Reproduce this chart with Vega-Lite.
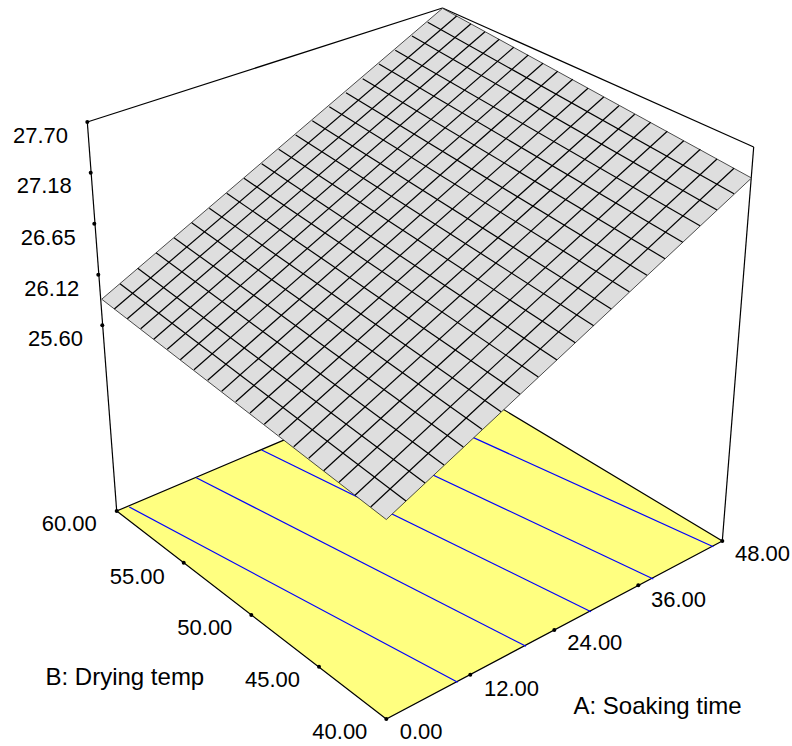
{
"$schema":"https://vega.github.io/schema/vega-lite/v6.json",
"width":792,"height":746,
"autosize":{"type":"fit","contains":"padding"},
"padding":0,
"background":"white",
"config":{"view":{"stroke":null}},
"datasets":{
"box":[
{"sx":87.3,"sy":122,"ex":116.7,"ey":511},
{"sx":87.3,"sy":122,"ex":442.5,"ey":8},
{"sx":442.5,"sy":8,"ex":753.7,"ey":147},
{"sx":753.7,"sy":147,"ex":722.3,"ey":541}
],
"floor":[
{"i":0,"px":116.7,"py":511},
{"i":1,"px":386.3,"py":719},
{"i":2,"px":722.3,"py":541},
{"i":3,"px":442.4,"py":372.8}
],
"contours":[
{"sx":129.3,"sy":507,"ex":457.7,"ey":682.3},
{"sx":196.3,"sy":477.7,"ex":526,"ey":646.3},
{"sx":261.7,"sy":450,"ex":591,"ey":611.7},
{"sx":323.3,"sy":423.3,"ex":653.3,"ey":579},
{"sx":384.7,"sy":397.3,"ex":713.3,"ey":546.7}
],
"surface":[
{"i":0,"px":101.7,"py":299.2},
{"i":1,"px":442.5,"py":8.3},
{"i":2,"px":751.5,"py":178},
{"i":3,"px":386.3,"py":519.5}
],
"grid":[
{"sx":120,"sy":283.7,"ex":406,"ey":501},
{"sx":137.7,"sy":268.3,"ex":425,"ey":483},
{"sx":156,"sy":252.7,"ex":444,"ey":465},
{"sx":174,"sy":237.7,"ex":463.3,"ey":447},
{"sx":191.7,"sy":222.7,"ex":482,"ey":429.3},
{"sx":209.3,"sy":208.3,"ex":501,"ey":411.7},
{"sx":226.7,"sy":193.3,"ex":520,"ey":394.3},
{"sx":244,"sy":178.3,"ex":538.3,"ey":377},
{"sx":261.7,"sy":163.7,"ex":557,"ey":360},
{"sx":278.7,"sy":149.3,"ex":575.3,"ey":342.7},
{"sx":295.7,"sy":135,"ex":593.7,"ey":325.7},
{"sx":312.3,"sy":120.7,"ex":611.3,"ey":309},
{"sx":329.3,"sy":106.7,"ex":629.3,"ey":291.7},
{"sx":346,"sy":92.7,"ex":647,"ey":275.3},
{"sx":362.7,"sy":78.7,"ex":665,"ey":258.7},
{"sx":379,"sy":64,"ex":682.7,"ey":242.3},
{"sx":395.3,"sy":50.3,"ex":700,"ey":225.7},
{"sx":412,"sy":36,"ex":717,"ey":210},
{"sx":427.7,"sy":22.3,"ex":734,"ey":193.7},
{"sx":114.3,"sy":309,"ex":456.7,"ey":16},
{"sx":127.3,"sy":318.7,"ex":471,"ey":23.7},
{"sx":140.7,"sy":328.7,"ex":485,"ey":31.7},
{"sx":153.7,"sy":339.3,"ex":499.3,"ey":39.3},
{"sx":167.3,"sy":349.3,"ex":513.7,"ey":47.3},
{"sx":180.3,"sy":359.7,"ex":528.3,"ey":55},
{"sx":194,"sy":369.7,"ex":543,"ey":63.3},
{"sx":207.7,"sy":380.3,"ex":557.7,"ey":71.3},
{"sx":221.7,"sy":391.3,"ex":572.7,"ey":79.3},
{"sx":235.7,"sy":401.7,"ex":588,"ey":88.3},
{"sx":250,"sy":413,"ex":603.7,"ey":97},
{"sx":264.3,"sy":424.3,"ex":619,"ey":105.7},
{"sx":279,"sy":435.3,"ex":634.7,"ey":114.3},
{"sx":293.7,"sy":446.7,"ex":650.7,"ey":122.3},
{"sx":308.7,"sy":458.3,"ex":667.3,"ey":131.3},
{"sx":323.7,"sy":470.7,"ex":683.7,"ey":140.7},
{"sx":339,"sy":482.3,"ex":700.3,"ey":149.3},
{"sx":355,"sy":495.3,"ex":717,"ey":159},
{"sx":370.7,"sy":507,"ex":734,"ey":168.3}
],
"ticks":[
{"px":87.3,"py":122},{"px":90.7,"py":172.7},{"px":94.3,"py":223.7},{"px":98.3,"py":274.7},{"px":102.3,"py":325.3},
{"px":116.7,"py":511},{"px":183.7,"py":562.7},{"px":251.3,"py":615},{"px":319,"py":666.7},{"px":386.3,"py":719},
{"px":470.3,"py":674.7},{"px":554.3,"py":630},{"px":638.3,"py":585.3},{"px":722.3,"py":541}
],
"numbers":[
{"t":"27.70","px":13,"py":142.7},
{"t":"27.18","px":16.7,"py":193.3},
{"t":"26.65","px":20.7,"py":245},
{"t":"26.12","px":24.3,"py":296},
{"t":"25.60","px":28,"py":346.3},
{"t":"60.00","px":41.7,"py":531},
{"t":"55.00","px":109.7,"py":583.5},
{"t":"50.00","px":177.3,"py":635},
{"t":"45.00","px":245,"py":687.3},
{"t":"40.00","px":312.3,"py":739.3},
{"t":"0.00","px":399.7,"py":739.3},
{"t":"12.00","px":484,"py":696},
{"t":"24.00","px":567.3,"py":650},
{"t":"36.00","px":651,"py":607.3},
{"t":"48.00","px":735,"py":561}
],
"titles":[
{"t":"B: Drying temp","px":45.5,"py":684.5},
{"t":"A: Soaking time","px":573.5,"py":713.5}
]
},
"encoding":{
"x":{"field":"sx","type":"quantitative","axis":null,"scale":{"domain":[0,792],"range":[0,792],"nice":false,"zero":false}},
"y":{"field":"sy","type":"quantitative","axis":null,"scale":{"domain":[746,0],"range":[746,0],"nice":false,"zero":false}}
},
"layer":[
{"data":{"name":"box"},"mark":{"type":"rule","color":"#000000","strokeWidth":1.2},"encoding":{"x2":{"field":"ex"},"y2":{"field":"ey"}}},
{"data":{"name":"floor"},"mark":{"type":"line","fill":"#ffff80","stroke":"#000000","strokeWidth":1.2,"interpolate":"linear-closed"},
 "encoding":{"x":{"field":"px","type":"quantitative"},"y":{"field":"py","type":"quantitative"},"order":{"field":"i","type":"ordinal"}}},
{"data":{"name":"contours"},"mark":{"type":"rule","color":"#0000ff","strokeWidth":1.2},"encoding":{"x2":{"field":"ex"},"y2":{"field":"ey"}}},
{"data":{"name":"surface"},"mark":{"type":"line","fill":"#dedede","stroke":"#222222","strokeWidth":0.8,"interpolate":"linear-closed"},
 "encoding":{"x":{"field":"px","type":"quantitative"},"y":{"field":"py","type":"quantitative"},"order":{"field":"i","type":"ordinal"}}},
{"data":{"name":"grid"},"mark":{"type":"rule","color":"#000000","strokeWidth":1.2},"encoding":{"x2":{"field":"ex"},"y2":{"field":"ey"}}},
{"data":{"name":"ticks"},"mark":{"type":"circle","color":"#000000","size":16,"opacity":1},
 "encoding":{"x":{"field":"px","type":"quantitative"},"y":{"field":"py","type":"quantitative"}}},
{"data":{"name":"numbers"},"mark":{"type":"text","align":"left","baseline":"alphabetic","font":"Liberation Sans","fontSize":22,"color":"#000000"},
 "encoding":{"x":{"field":"px","type":"quantitative"},"y":{"field":"py","type":"quantitative"},"text":{"field":"t","type":"nominal"}}},
{"data":{"name":"titles"},"mark":{"type":"text","align":"left","baseline":"alphabetic","font":"Liberation Sans","fontSize":24,"color":"#000000"},
 "encoding":{"x":{"field":"px","type":"quantitative"},"y":{"field":"py","type":"quantitative"},"text":{"field":"t","type":"nominal"}}}
]
}
